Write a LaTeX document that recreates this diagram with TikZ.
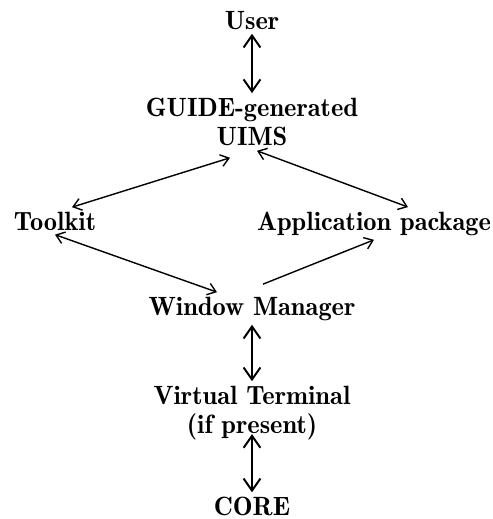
\documentclass[tikz,border=0pt]{standalone}
\usepackage{tikz}
\usetikzlibrary{arrows.meta}

\begin{document}
\begin{tikzpicture}[every node/.style={font=\fontsize{18.8}{20.6}\fontseries{b}\selectfont, inner sep=3pt, anchor=base, align=center},
    both/.style={line width=1.4pt, {Straight Barb[length=3mm,width=4.2mm]}-{Straight Barb[length=3mm,width=4.2mm]}},
    thin/.style={line width=1pt, {Straight Barb[length=2mm,width=3mm]}-{Straight Barb[length=2mm,width=3mm]}}]
        \useasboundingbox (0,0) rectangle (12.325,-12.975);
        \draw (6.3, -0.725) node(user){User};
        \draw (6.3, -3.625) node(guide){GUIDE-generated\\UIMS};
        \draw (1.375, -5.75) node(toolkit){Toolkit};
        \draw (9.35, -5.75) node(app){Application package};
        \draw (6.3, -7.875) node(wm){Window Manager};
        \draw (6.3, -10.825) node(vt){Virtual Terminal\\(if present)};
        \draw (6.3, -12.88) node(core){CORE};
        \draw[both] (user) -- (guide);
        \draw[thin] ([shift={(-0.55,-0.2)}]guide.south) -- ([xshift=0.425cm]toolkit.north);
        \draw[thin] ([shift={(0.125,-0.025)}]guide.south) -- ([xshift=0.85cm]app.north);
        \draw[thin] (toolkit.south) -- ([xshift=-0.875cm]wm.north);
        \draw[thin, -{Straight Barb[length=2mm,width=3mm]}] ([shift={(0.275,0.2)}]wm.north) -- (app.south);
        \draw[both] (wm) -- (vt);
        \draw[both] ([yshift=0.25cm]vt.south) -- (core);
    \end{tikzpicture}
\end{document}
